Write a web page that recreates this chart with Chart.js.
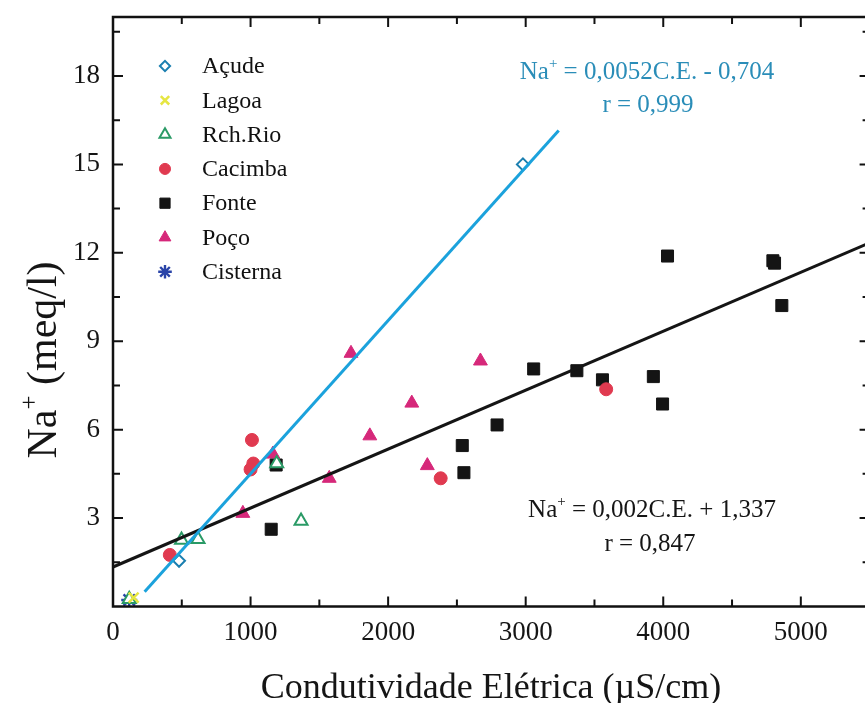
<!DOCTYPE html>
<html>
<head>
<meta charset="utf-8">
<script src="https://cdn.jsdelivr.net/npm/chart.js@4.4.0/dist/chart.umd.min.js"></script>
<style>
  html, body { margin: 0; padding: 0; background: #fff; overflow: hidden; }
  #wrap { width: 880px; height: 703px; }
</style>
</head>
<body>
<div id="wrap"><canvas id="grafico" width="880" height="703"></canvas></div>
<script>
// Na+ x Condutividade Elétrica
const acudeCE = [480, 2980];
const acudeNa = [1.55, 15.0];
const lagoaCE = [150];
const lagoaNa = [0.3];
const rioCE = [118, 498, 618, 1367, 1190];
const rioNa = [0.25, 2.26, 2.28, 2.9, 4.85];
const cacimbaCE = [413, 1010, 1020, 1000, 2382, 3585];
const cacimbaNa = [1.75, 5.65, 4.85, 4.65, 4.35, 7.37];
const fonteCE = [1150, 1186, 2551, 2539, 2792, 3058, 3372, 3558, 3928, 3995, 4031, 4797, 4809, 4862];
const fonteNa = [2.62, 4.8, 4.54, 5.46, 6.16, 8.06, 8.0, 7.69, 7.8, 6.87, 11.89, 11.73, 11.65, 10.21];
const pocoCE = [944, 1162, 1572, 1730, 1867, 2172, 2285, 2671];
const pocoNa = [3.16, 5.17, 4.35, 8.59, 5.79, 6.9, 4.78, 8.33];
const cisternaCE = [118];
const cisternaNa = [0.22];

// retas de regressão (extremos)
const retaAcudeCE = [230, 3240];
const retaAcudeNa = [0.5, 16.15];
const retaGeralCE = [0, 5500];
const retaGeralNa = [1.34, 12.34];

const nomes = ["Açude", "Lagoa", "Rch.Rio", "Cacimba", "Fonte", "Poço", "Cisterna"];

const pontos = (xs, ys) => xs.map((x, i) => ({ x: x, y: ys[i] }));

const serif = "'Liberation Serif', 'Times New Roman', serif";

function serie(label, xs, ys, estilo, cor, fundo, raio, borda) {
    return {
        type: "scatter",
        label: label,
        data: pontos(xs, ys),
        pointStyle: estilo,
        pointRadius: raio,
        pointHoverRadius: raio,
        borderColor: cor,
        backgroundColor: fundo,
        pointBorderWidth: borda,
        borderWidth: borda
    };
}

const series = [
    serie("Açude", acudeCE, acudeNa, "rectRot", "#1b7fb0", "#ffffff", 6, 2),
    serie("Lagoa", lagoaCE, lagoaNa, "crossRot", "#e6e642", "#e6e642", 7, 2.5),
    serie("Rch.Rio", rioCE, rioNa, "triangle", "#2a9a66", "#ffffff", 7.5, 2),
    serie("Cacimba", cacimbaCE, cacimbaNa, "circle", "#e03a50", "#e03a50", 6.5, 1),
    serie("Fonte", fonteCE, fonteNa, "rect", "#141414", "#141414", 8.5, 1),
    serie("Poço", pocoCE, pocoNa, "triangle", "#d6287a", "#d6287a", 8, 1),
    serie("Cisterna", cisternaCE, cisternaNa, "star", "#2a44a8", "#2a44a8", 8, 2.4)
];

const retas = [
    {
        type: "line", label: "reta1", data: pontos(retaAcudeCE, retaAcudeNa),
        borderColor: "#1ba2dc", borderWidth: 3, pointRadius: 0, fill: false
    },
    {
        type: "line", label: "reta2", data: pontos(retaGeralCE, retaGeralNa),
        borderColor: "#151515", borderWidth: 3, pointRadius: 0, fill: false
    }
];

// texto com "Na+" sobrescrito
function textoNa(ctx, cx, y, resto, tam, cor) {
    ctx.save();
    ctx.fillStyle = cor;
    ctx.textBaseline = "alphabetic";
    ctx.textAlign = "left";
    ctx.font = tam + "px " + serif;
    const w1 = ctx.measureText("Na").width;
    const w3 = ctx.measureText(resto).width;
    ctx.font = Math.round(tam * 0.6) + "px " + serif;
    const w2 = ctx.measureText("+").width;
    let x = cx - (w1 + w2 + w3) / 2;
    ctx.font = tam + "px " + serif;
    ctx.fillText("Na", x, y);
    ctx.font = Math.round(tam * 0.6) + "px " + serif;
    ctx.fillText("+", x + w1, y - tam * 0.45);
    ctx.font = tam + "px " + serif;
    ctx.fillText(resto, x + w1 + w2, y);
    ctx.restore();
}

const moldura = {
    id: "moldura",
    afterDraw(chart) {
        const ctx = chart.ctx;
        const a = chart.chartArea;
        const sx = chart.scales.x;
        const sy = chart.scales.y;
        ctx.save();
        ctx.strokeStyle = "#111";
        ctx.lineWidth = 2.5;
        ctx.strokeRect(a.left, a.top, a.right - a.left, a.bottom - a.top);

        // marcas para dentro nos quatro lados
        ctx.lineWidth = 2;
        ctx.beginPath();
        for (let v = 500; v < 5500; v += 500) {
            const px = sx.getPixelForValue(v);
            const len = v % 1000 === 0 ? 10 : 7;
            ctx.moveTo(px, a.bottom); ctx.lineTo(px, a.bottom - len);
            ctx.moveTo(px, a.top); ctx.lineTo(px, a.top + len);
        }
        for (let v = 1.5; v < 20; v += 1.5) {
            const py = sy.getPixelForValue(v);
            const len = Math.abs(v / 3 - Math.round(v / 3)) < 1e-6 ? 10 : 7;
            ctx.moveTo(a.left, py); ctx.lineTo(a.left + len, py);
            ctx.moveTo(a.right, py); ctx.lineTo(a.right - len, py);
        }
        ctx.stroke();

        // legenda
        const h = Chart.helpers;
        series.forEach((s, i) => {
            const y = 66 + i * 34.3;
            ctx.fillStyle = s.backgroundColor;
            ctx.strokeStyle = s.borderColor;
            ctx.lineWidth = s.pointBorderWidth;
            h.drawPoint(ctx, { pointStyle: s.pointStyle, radius: s.pointRadius * 0.85, rotation: 0, borderWidth: s.pointBorderWidth }, 165, y);
            ctx.fillStyle = "#111";
            ctx.font = "24px " + serif;
            ctx.textAlign = "left";
            ctx.textBaseline = "middle";
            ctx.fillText(nomes[i], 202, y + 1);
        });

        // equações
        textoNa(ctx, 647, 79, " = 0,0052C.E. - 0,704", 25, "#2a8db8");
        ctx.font = "25px " + serif;
        ctx.fillStyle = "#2a8db8";
        ctx.textAlign = "center";
        ctx.textBaseline = "alphabetic";
        ctx.fillText("r = 0,999", 648, 112);
        textoNa(ctx, 652, 517, " = 0,002C.E. + 1,337", 25, "#151515");
        ctx.fillStyle = "#151515";
        ctx.fillText("r = 0,847", 650, 551);

        // títulos dos eixos
        ctx.font = "36px " + serif;
        ctx.fillText("Condutividade Elétrica (\u00B5S/cm)", 491, 698);
        ctx.translate(56, 360);
        ctx.rotate(-Math.PI / 2);
        textoNa(ctx, 0, 0, " (meq/l)", 42, "#151515");
        ctx.restore();
    }
};

new Chart(document.getElementById("grafico").getContext("2d"), {
    data: { datasets: retas.concat(series) },
    options: {
        responsive: false,
        animation: false,
        layout: { padding: { top: 17, right: 8, left: 0, bottom: 0 } },
        plugins: {
            legend: { display: false },
            tooltip: { enabled: false }
        },
        scales: {
            x: {
                type: "linear", min: 0, max: 5500,
                grid: { display: false, drawTicks: false },
                border: { display: false },
                ticks: {
                    stepSize: 500, autoSkip: false, maxRotation: 0, padding: 10,
                    color: "#151515", font: { family: serif, size: 27 },
                    callback: v => (v % 1000 === 0 && v < 5500) ? v : ""
                },
                afterFit: s => { s.height = 96.5; s.paddingLeft = 0; s.paddingRight = 0; }
            },
            y: {
                type: "linear", min: 0, max: 20,
                grid: { display: false, drawTicks: false },
                border: { display: false },
                ticks: {
                    stepSize: 1.5, autoSkip: false, padding: 13,
                    color: "#151515", font: { family: serif, size: 27 },
                    callback: v => (v > 0 && Math.abs(v / 3 - Math.round(v / 3)) < 1e-6) ? Math.round(v) : ""
                },
                afterFit: s => { s.width = 113; s.paddingTop = 0; s.paddingBottom = 0; }
            }
        }
    },
    plugins: [moldura]
});
</script>
</body>
</html>
